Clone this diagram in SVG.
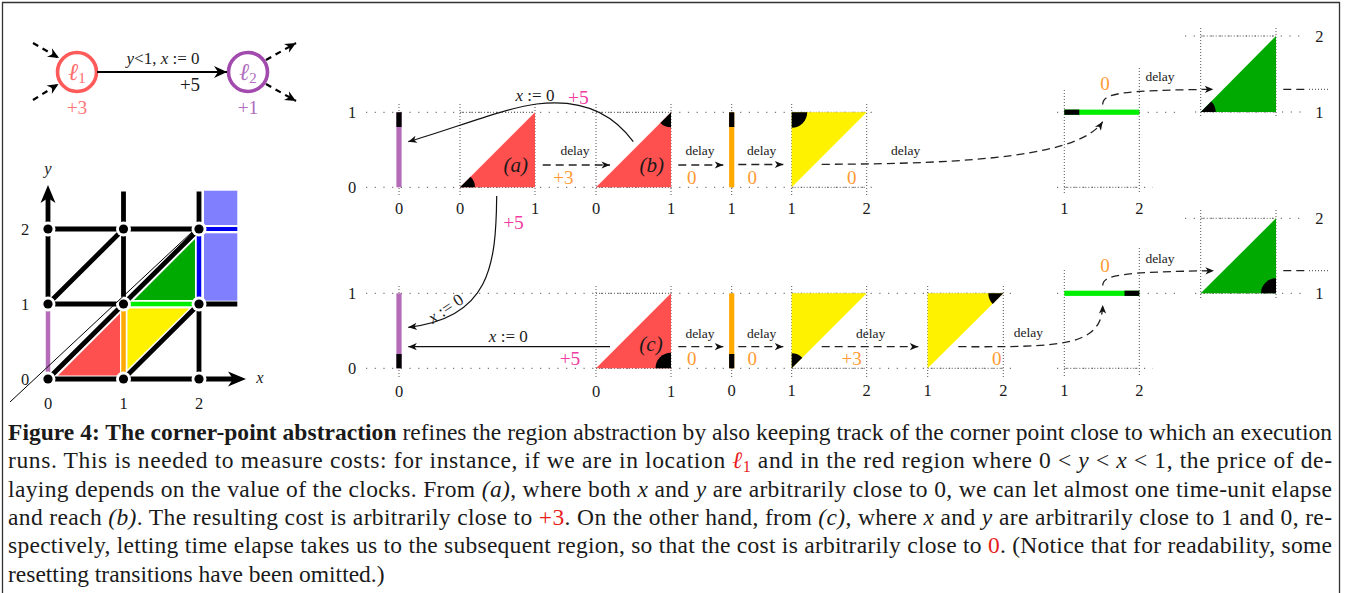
<svg xmlns="http://www.w3.org/2000/svg" width="1354" height="593" viewBox="0 0 1354 593">
<style>
text{font-family:"Liberation Serif","Times New Roman",serif;fill:#1a1a1a}
.n{font-size:16.5px;text-anchor:middle}
.dy{font-size:13.5px;text-anchor:middle}
.or{fill:#ff9a33;font-size:19px;text-anchor:middle}
.mg{fill:#f03ca0;font-size:19.5px;text-anchor:middle}
.it{font-style:italic}
.lab{font-size:21px;font-style:italic;text-anchor:middle}
.asg{font-size:17px;text-anchor:middle}
.hl{stroke:#555;stroke-width:1;stroke-dasharray:1.2 7.5;fill:none}
.hd{stroke:#555;stroke-width:1;stroke-dasharray:1 2;fill:none}
.vd{stroke:#555;stroke-width:1;stroke-dasharray:1 2;fill:none}
.dash{stroke:#222;stroke-width:1.3;stroke-dasharray:8 5;fill:none;marker-end:url(#sa)}
.sol{stroke:#111;stroke-width:1.2;fill:none;marker-end:url(#sa)}
.cap{font-size:23.5px}
.gl{stroke:#000;stroke-width:4.8;fill:none}
.red{fill:#ff5050}
.yel{fill:#fff200}
.dg{fill:#00aa00}
.wedge{fill:#000}
</style>
<defs>
<marker id="sa" markerUnits="userSpaceOnUse" markerWidth="12" markerHeight="10" viewBox="-10 -5 12 10" refX="0" refY="0" orient="auto"><path d="M0,0 L-8.5,-3.6 L-6.2,0 L-8.5,3.6 Z" fill="#111"/></marker>
<marker id="ba" markerUnits="userSpaceOnUse" viewBox="-14 -7 15 14" markerWidth="15" markerHeight="14" refX="0" refY="0" orient="auto"><path d="M0,0 L-13,-6 L-9,0 L-13,6 Z" fill="#000"/></marker>
<marker id="ma" markerUnits="userSpaceOnUse" viewBox="-12 -6 13 12" markerWidth="13" markerHeight="12" refX="0" refY="0" orient="auto"><path d="M0,0 L-11,-5 L-7.5,0 L-11,5 Z" fill="#000"/></marker>
</defs>
<rect x="0" y="0" width="1354" height="593" fill="#fff"/>
<path d="M2.5,593 V2.5 H1339.5 V593" fill="none" stroke="#333" stroke-width="1.3"/>

<!-- automaton -->
<g id="loc1">
<circle cx="77" cy="72" r="19.5" fill="#fff" stroke="#ff5a5a" stroke-width="3.6"/>
<text x="77" y="80" text-anchor="middle" style="font-size:24px;fill:#ff6b6b"><tspan font-style="italic">ℓ</tspan><tspan font-size="15" dy="3">1</tspan></text>
<text x="77" y="114" style="fill:#ff7878;font-size:19.5px;text-anchor:middle">+3</text>
</g>
<g id="loc2">
<circle cx="248" cy="72" r="19.5" fill="#fff" stroke="#a24aae" stroke-width="3.6"/>
<text x="248" y="80" text-anchor="middle" style="font-size:24px;fill:#b06ec0"><tspan font-style="italic">ℓ</tspan><tspan font-size="15" dy="3">2</tspan></text>
<text x="248" y="114" style="fill:#b06ec0;font-size:19.5px;text-anchor:middle">+1</text>
</g>
<g id="automaton-edges">
<line x1="97" y1="72" x2="227" y2="72" stroke="#000" stroke-width="2.2" marker-end="url(#ba)"/>
<text x="163" y="63.5" font-size="17" text-anchor="middle"><tspan class="it">y</tspan>&lt;1,  <tspan class="it">x</tspan> := 0</text>
<text x="190" y="90.5" font-size="19" text-anchor="middle">+5</text>
<g stroke="#000" stroke-width="2.2" stroke-dasharray="6 5" marker-end="url(#ma)">
<line x1="33" y1="43" x2="59" y2="58"/>
<line x1="33" y1="100" x2="58.5" y2="84"/>
<line x1="266" y1="60" x2="296" y2="43"/>
<line x1="266" y1="84" x2="296" y2="101"/>
</g>
</g>

<!-- region graph -->
<g id="region-graph">
<path class="gl" d="M48,304 V196 M48,304 H123.5 M123.5,304 V191.5 M48,229 H199 M199,379 V304 M199,229 V191.5 M199,304 H237.3 M48,379 H234 M48,379 L123.5,304 M123.5,379 L199,304 M48,304 L123.5,229 M123.5,304 L199,229"/>
<polygon points="246,379 228,371.5 233,379 228,386.5" fill="#000"/>
<polygon points="48,185 40.5,203 48,198 55.5,203" fill="#000"/>
<line x1="48" y1="379" x2="48" y2="304" stroke="#b56cb8" stroke-width="4.5"/>
<line x1="123.5" y1="379" x2="123.5" y2="304" stroke="#ffaa00" stroke-width="4.5"/>
<line x1="123.5" y1="304" x2="199" y2="304" stroke="#00ee00" stroke-width="4.5"/>
<line x1="199" y1="304" x2="199" y2="229" stroke="#0000ee" stroke-width="4.5"/>
<line x1="199" y1="229" x2="237.3" y2="229" stroke="#0000ee" stroke-width="4"/>
<rect x="204" y="190.7" width="33.3" height="34.3" fill="#8080ff"/>
<rect x="204" y="233.3" width="33.3" height="67.4" fill="#8080ff"/>
<polygon class="red" points="58,375.5 120,375.5 120,313.5"/>
<polygon class="yel" points="127.5,369.5 127.5,308.5 189,308.5"/>
<polygon class="dg" points="134,300 195,300 195,239"/>
<g fill="#fff">
<circle cx="48" cy="379" r="7.5"/><circle cx="123.5" cy="379" r="7.5"/><circle cx="199" cy="379" r="7.5"/>
<circle cx="48" cy="304" r="7.5"/><circle cx="123.5" cy="304" r="7.5"/><circle cx="199" cy="304" r="7.5"/>
<circle cx="48" cy="229" r="7.5"/><circle cx="123.5" cy="229" r="7.5"/><circle cx="199" cy="229" r="7.5"/>
</g>
<g fill="#000">
<circle cx="48" cy="379" r="4.6"/><circle cx="123.5" cy="379" r="4.6"/><circle cx="199" cy="379" r="4.6"/>
<circle cx="48" cy="304" r="4.6"/><circle cx="123.5" cy="304" r="4.6"/><circle cx="199" cy="304" r="4.6"/>
<circle cx="48" cy="229" r="4.6"/><circle cx="123.5" cy="229" r="4.6"/><circle cx="199" cy="229" r="4.6"/>
</g>
<line x1="10" y1="402" x2="192" y2="232" stroke="#000" stroke-width="1"/>
<text x="48" y="174" class="n it">y</text>
<text x="260" y="383" class="n it">x</text>
<text x="48" y="409" class="n">0</text>
<text x="123.5" y="409" class="n">1</text>
<text x="199" y="409" class="n">2</text>
<text x="25" y="234.5" class="n">2</text>
<text x="25" y="309.5" class="n">1</text>
<text x="25" y="384.5" class="n">0</text>
</g>

<!-- top row grid -->
<g id="grid-top">
<path class="hl" d="M366,112.3 H877 M366,187.3 H877 M1057,187.3 H1153 M1139,112.3 H1180 M1057,112.3 H1064 M1195,112 H1307 M1185,36 H1303"/>
<path class="hd" d="M460,112.3 H535 M460,187.3 H535 M596,112.3 H671 M596,187.3 H671 M791.7,112.3 H866.7 M791.7,187.3 H866.7 M1064.3,187.3 H1139.3 M1200.7,36 H1276 M1200.7,112 H1276"/>
<path class="vd" d="M399,104 V195 M460,104 V195 M535,104 V195 M596,104 V195 M671,104 V195 M731.7,104 V195 M791.7,104 V195 M866.7,104 V195 M1064.3,90 V193 M1139.3,68 V193 M1200.7,28 V118 M1276,28 V118"/>
<text x="352" y="117.8" class="n">1</text>
<text x="352" y="192.8" class="n">0</text>
<text x="399" y="214" class="n">0</text>
<text x="460" y="214" class="n">0</text>
<text x="535" y="214" class="n">1</text>
<text x="596" y="214" class="n">0</text>
<text x="671" y="214" class="n">1</text>
<text x="731.7" y="214" class="n">1</text>
<text x="791.7" y="214" class="n">1</text>
<text x="866.7" y="214" class="n">2</text>
<text x="1064.3" y="214" class="n">1</text>
<text x="1139.3" y="214" class="n">2</text>
<text x="1319.3" y="41.5" class="n">2</text>
<text x="1319.3" y="117.5" class="n">1</text>
</g>

<g id="top-bar-purple">
<rect x="396.4" y="112.3" width="5.2" height="75" fill="#b56cb8"/>
<rect x="396.4" y="112.3" width="5.2" height="14.7" fill="#000"/>
</g>
<g id="top-a">
<polygon class="red" points="460,187.3 535,187.3 535,112.3"/>
<path class="wedge" d="M460,187.3 L475,187.3 A15,15 0 0 0 470.6,176.7 Z"/>
<text x="515.7" y="171.5" class="lab">(a)</text>
</g>
<g id="top-b">
<polygon class="red" points="596,187.3 671,187.3 671,112.3"/>
<path class="wedge" d="M671,112.3 L671,127.3 A15,15 0 0 1 660.4,122.9 Z"/>
<text x="651.7" y="171.5" class="lab">(b)</text>
</g>
<g id="top-bar-orange">
<rect x="729.1" y="112.3" width="5.2" height="75" fill="#ffaa00"/>
<rect x="729.1" y="112.3" width="5.2" height="14.7" fill="#000"/>
</g>
<g id="top-yellow">
<polygon class="yel" points="791.7,187.3 791.7,112.3 866.7,112.3"/>
<path class="wedge" d="M791.7,112.3 L807.2,112.3 A15.5,15.5 0 0 1 791.7,127.8 Z"/>
</g>
<g id="top-bar-green">
<rect x="1064.3" y="109.6" width="75" height="5.2" fill="#00ee00"/>
<rect x="1064.3" y="109.6" width="15" height="5.2" fill="#000"/>
</g>
<g id="top-green">
<polygon class="dg" points="1200.7,112 1276,112 1276,36"/>
<path class="wedge" d="M1200.7,112 L1215.7,112 A15,15 0 0 0 1211.3,101.4 Z"/>
</g>

<!-- bottom row grid -->
<g id="grid-bottom">
<path class="hl" d="M366,293.3 H1013 M366,368.3 H1013 M1057,368.3 H1153 M1139,293.3 H1180 M1057,293.3 H1064 M1195,293.3 H1307 M1185,218.3 H1303"/>
<path class="hd" d="M596,293.3 H671 M596,368.3 H671 M791.7,293.3 H866.7 M791.7,368.3 H866.7 M927.7,293.3 H1003.3 M927.7,368.3 H1003.3 M1064.3,368.3 H1139.3 M1200.7,218.3 H1276 M1200.7,293.3 H1276"/>
<path class="vd" d="M399,286 V377 M596,286 V377 M671,286 V377 M731.7,286 V377 M791.7,286 V377 M866.7,286 V377 M927.7,286 V377 M1003.3,286 V377 M1064.3,270 V377 M1139.3,248 V377 M1200.7,210 V300 M1276,210 V300"/>
<text x="352" y="298.8" class="n">1</text>
<text x="352" y="373.8" class="n">0</text>
<text x="399" y="397" class="n">0</text>
<text x="596" y="397" class="n">0</text>
<text x="671" y="397" class="n">1</text>
<text x="731.7" y="395.5" class="n">0</text>
<text x="791.7" y="395.5" class="n">1</text>
<text x="866.7" y="395.5" class="n">2</text>
<text x="927.7" y="395.5" class="n">1</text>
<text x="1003.3" y="395.5" class="n">2</text>
<text x="1064.3" y="395.5" class="n">1</text>
<text x="1139.3" y="395.5" class="n">2</text>
<text x="1319.3" y="223.8" class="n">2</text>
<text x="1319.3" y="298.8" class="n">1</text>
</g>

<g id="bot-bar-purple">
<rect x="396.4" y="293.3" width="5.2" height="75" fill="#b56cb8"/>
<rect x="396.4" y="354" width="5.2" height="14.3" fill="#000"/>
</g>
<g id="bot-c">
<polygon class="red" points="596,368.3 671,368.3 671,293.3"/>
<path class="wedge" d="M671,368.3 L655.5,368.3 A15.5,15.5 0 0 1 671,352.8 Z"/>
<text x="651" y="351" class="lab">(c)</text>
</g>
<g id="bot-bar-orange">
<rect x="729.1" y="293.3" width="5.2" height="75" fill="#ffaa00"/>
<rect x="729.1" y="354" width="5.2" height="14.3" fill="#000"/>
</g>
<g id="bot-yellow-1">
<polygon class="yel" points="791.7,293.3 866.7,293.3 791.7,368.3"/>
<path class="wedge" d="M791.7,368.3 L791.7,353.3 A15,15 0 0 1 802.3,357.7 Z"/>
</g>
<g id="bot-yellow-2">
<polygon class="yel" points="927.7,293.3 1003.3,293.3 927.7,368.3"/>
<path class="wedge" d="M1003.3,293.3 L988.3,293.3 A15,15 0 0 0 992.7,303.9 Z"/>
</g>
<g id="bot-bar-green">
<rect x="1064.3" y="290.7" width="75" height="5.2" fill="#00ee00"/>
<rect x="1124.5" y="290.7" width="14.8" height="5.2" fill="#000"/>
</g>
<g id="bot-green">
<polygon class="dg" points="1200.7,293.3 1276,293.3 1276,218.3"/>
<path class="wedge" d="M1276,293.3 L1261,293.3 A15,15 0 0 1 1276,278.3 Z"/>
</g>

<!-- connectors -->
<g id="connectors">
<path class="sol" d="M633.3,141.7 Q600,96 536.7,104 C505,108 455,128 408.3,141.7"/>
<text x="535" y="100.5" class="asg"><tspan class="it">x</tspan> := 0</text>
<text x="578.3" y="104" class="mg">+5</text>

<path class="sol" d="M496.7,196 C496,265 490,318 408.3,327.3"/>
<text x="513.5" y="228.5" class="mg">+5</text>
<text transform="translate(446,309) rotate(-34)" x="0" y="5" class="asg"><tspan class="it">x</tspan> := 0</text>

<path class="sol" d="M610,346.7 H408.3"/>
<text x="508.3" y="342" class="asg"><tspan class="it">x</tspan> := 0</text>
<text x="570" y="365" class="mg">+5</text>

<path class="dash" d="M542.7,165 H610"/>
<text x="575" y="155.2" class="dy">delay</text>
<text x="563.3" y="183.5" class="or">+3</text>

<path class="dash" d="M678.3,165 H723.3"/>
<text x="700" y="155.2" class="dy">delay</text>
<text x="691.7" y="183.5" class="or">0</text>

<path class="dash" d="M738.3,164.5 H783.3"/>
<text x="761.7" y="155.2" class="dy">delay</text>
<text x="752.3" y="183.5" class="or">0</text>

<path class="dash" d="M821.7,164.3 C980,164 1080,155 1102.7,121.7"/>
<text x="905.7" y="155.2" class="dy">delay</text>
<text x="851.7" y="183.5" class="or">0</text>

<path class="dash" d="M1102.7,104.5 C1103,93 1120,90.5 1213.3,89.3"/>
<text x="1105" y="90" class="or">0</text>
<text x="1160" y="81" class="dy">delay</text>
<path d="M1283.3,89.3 H1310" stroke="#222" stroke-width="1.3" stroke-dasharray="8 5" fill="none"/>
<path d="M1312,89.3 H1328" stroke="#444" stroke-width="1" stroke-dasharray="1 2" fill="none"/>

<path class="dash" d="M678.3,346.7 H723.3"/>
<text x="700" y="338" class="dy">delay</text>
<text x="691.7" y="365" class="or">0</text>

<path class="dash" d="M738.3,346.7 H783.3"/>
<text x="761.7" y="338" class="dy">delay</text>
<text x="752.3" y="365" class="or">0</text>

<path class="dash" d="M821.7,346.7 H918.3"/>
<text x="870.7" y="338" class="dy">delay</text>
<text x="851.7" y="365" class="or">+3</text>

<path class="dash" d="M958.3,346.7 C1060,347 1102,347 1102.7,305"/>
<text x="1028.3" y="337" class="dy">delay</text>
<text x="996.7" y="365" class="or">0</text>

<path class="dash" d="M1102.7,285.5 C1103,275 1120,272 1214,270.7"/>
<text x="1105" y="271.5" class="or">0</text>
<text x="1160" y="263" class="dy">delay</text>
<path d="M1283.3,270.7 H1310" stroke="#222" stroke-width="1.3" stroke-dasharray="8 5" fill="none"/>
<path d="M1312,270.7 H1328" stroke="#444" stroke-width="1" stroke-dasharray="1 2" fill="none"/>
</g>

<!-- caption -->
<g id="caption">
<text class="cap" x="8" y="440" textLength="1324" lengthAdjust="spacing"><tspan font-weight="bold">Figure 4: The corner-point abstraction</tspan> refines the region abstraction by also keeping track of the corner point close to which an execution</text>
<text class="cap" x="8" y="468.3" textLength="1324" lengthAdjust="spacing">runs. This is needed to measure costs: for instance, if we are in location <tspan fill="#e81c1c" font-style="italic">ℓ</tspan><tspan fill="#e81c1c" font-size="16" dy="4">1</tspan><tspan dy="-4"> and in the red region where 0 &lt; </tspan><tspan class="it">y</tspan> &lt; <tspan class="it">x</tspan> &lt; 1, the price of de-</text>
<text class="cap" x="8" y="496.6" textLength="1324" lengthAdjust="spacing">laying depends on the value of the clocks. From <tspan class="it">(a)</tspan>, where both <tspan class="it">x</tspan> and <tspan class="it">y</tspan> are arbitrarily close to 0, we can let almost one time-unit elapse</text>
<text class="cap" x="8" y="525" textLength="1324" lengthAdjust="spacing">and reach <tspan class="it">(b)</tspan>. The resulting cost is arbitrarily close to <tspan fill="#e81c1c">+3</tspan>. On the other hand, from <tspan class="it">(c)</tspan>, where <tspan class="it">x</tspan> and <tspan class="it">y</tspan> are arbitrarily close to 1 and 0, re-</text>
<text class="cap" x="8" y="553.3" textLength="1324" lengthAdjust="spacing">spectively, letting time elapse takes us to the subsequent region, so that the cost is arbitrarily close to <tspan fill="#e81c1c">0</tspan>. (Notice that for readability, some</text>
<text class="cap" x="8" y="581.6">resetting transitions have been omitted.)</text>
</g>
</svg>
